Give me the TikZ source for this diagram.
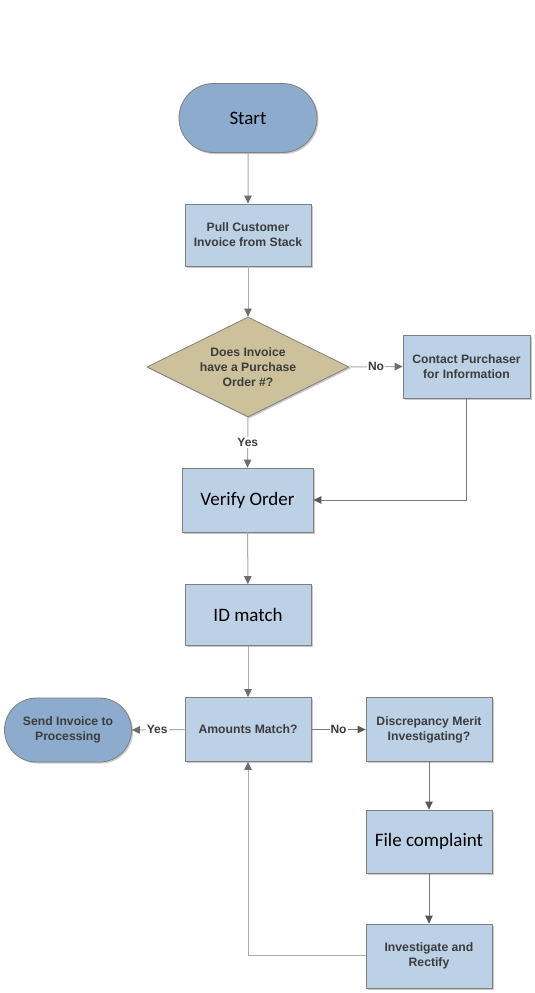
\documentclass[tikz,border=0pt]{standalone}
\usepackage{fontspec}
\setmainfont{Liberation Sans}
\newfontfamily\calib{Carlito}
\usetikzlibrary{arrows.meta,shapes.geometric,shapes.misc,shadows,calc}
\definecolor{boxfill}{HTML}{BCD0E6}
\definecolor{termfill}{HTML}{8DABCD}
\definecolor{diafill}{HTML}{CCC19A}
\definecolor{edgegrey}{HTML}{7F7F7F}
\definecolor{linegrey}{HTML}{ABABAB}
\definecolor{darkline}{HTML}{7A7A7A}
\definecolor{tipgrey}{HTML}{6E6E6E}
\definecolor{txt}{HTML}{3C3C3C}
\tikzset{
  base/.style={draw=edgegrey, line width=0.8pt, inner sep=0pt, align=center,
    drop shadow={shadow xshift=1.5pt, shadow yshift=-1.5pt, opacity=0.35, fill=black!60}},
  smallfont/.style={font=\bfseries\fontsize{12.2}{15}\selectfont, text=txt},
  procbox/.style={base, rectangle, fill=boxfill, minimum width=126pt, minimum height=62pt, smallfont},
  bigbox/.style={procbox, font=\calib\fontsize{19}{22}\selectfont, text=black},
  term/.style={base, rounded rectangle, fill=termfill},
  decision/.style={base, diamond, aspect=2.04, fill=diafill, minimum width=202pt, minimum height=100pt, smallfont},
  conn/.style={draw=linegrey, line width=1pt, -{Triangle[length=8pt,width=7.5pt,color=tipgrey]}},
  dconn/.style={draw=darkline, line width=1pt, -{Triangle[length=8pt,width=7.5pt,color=tipgrey!80!black]}},
  lab/.style={fill=white, inner sep=1pt, font=\bfseries\fontsize{12}{12}\selectfont, text=txt}
}
\begin{document}
\begin{tikzpicture}[x=1pt,y=-1pt]
\useasboundingbox[fill=white] (0,0) rectangle (535,993);
\node[term, minimum width=138pt, minimum height=69pt, font=\calib\fontsize{19}{22}\selectfont] (start) at (248,118) {Start};
\node[procbox] (pull) at (248,235) {Pull Customer\\Invoice from Stack};
\node[decision] (dec) at (248,367) {Does Invoice\\have a Purchase\\Order \#?};
\node[procbox, minimum width=127pt, minimum height=63pt] (contact) at (466.5,366.5) {Contact Purchaser\\for Information};
\node[bigbox, minimum width=131pt, minimum height=64pt] (verify) at (247.5,500) {Verify Order};
\node[bigbox, minimum height=61pt] (id) at (248,615) {ID match};
\node[procbox, minimum height=64pt] (amt) at (248,729.5) {Amounts Match?};
\node[term, minimum width=127pt, minimum height=64pt, smallfont] (send) at (68,730) {Send Invoice to\\Processing};
\node[procbox, minimum height=64pt] (disc) at (429,729.5) {Discrepancy Merit\\Investigating?};
\node[bigbox, minimum height=63pt] (file) at (429,841.5) {File complaint};
\node[procbox, minimum height=64pt] (inv) at (429,956) {Investigate and\\Rectify};
\coordinate (c1) at (466.5,500);
\coordinate (c2) at (248,955);

\draw[conn] (start) -- (pull);
\draw[conn] (pull) -- (dec);
\draw[conn] (dec.east) -- node[lab, pos=0.5] {No} (contact.west);
\draw[conn] (dec.south) -- node[lab, pos=0.5] {Yes} (verify.north);
\draw[dconn] (contact.south) -- (c1) -- (verify.east);
\draw[conn] (verify) -- (id);
\draw[conn] (id) -- (amt);
\draw[conn] (amt.west) -- node[lab, pos=0.52] {Yes} (send.east);
\draw[dconn] (amt.east) -- node[lab, pos=0.5] {No} (disc.west);
\draw[dconn] (disc) -- (file);
\draw[dconn] (file) -- (inv);
\draw[conn] (inv.west |- c2) -- (c2) -- (amt.south);
\end{tikzpicture}
\end{document}
